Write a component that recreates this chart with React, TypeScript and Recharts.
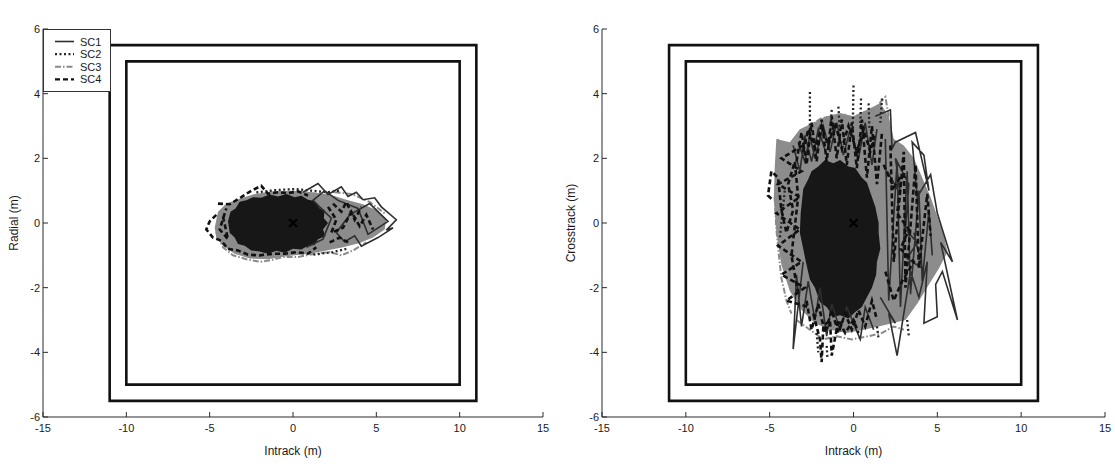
import React from 'react';
import {
  ComposedChart,
  XAxis,
  YAxis,
  Line,
  Area,
  Scatter,
  ReferenceArea,
  Legend,
  Label,
} from 'recharts';

type Pt = [number, number | null];

// ---------- axes ----------
const X_DOMAIN: [number, number] = [-15, 15];
const Y_DOMAIN: [number, number] = [-6, 6];
const X_TICKS = [-15, -10, -5, 0, 5, 10, 15];
const Y_TICKS = [-6, -4, -2, 0, 2, 4, 6];

// ---------- error boxes ----------
const OUTER_BOX_X: [number, number] = [-11, 11];
const OUTER_BOX_Y: [number, number] = [-5.5, 5.5];
const INNER_BOX_X: [number, number] = [-10, 10];
const INNER_BOX_Y: [number, number] = [-5, 5];
const ORIGIN: Pt[] = [[0, 0]];

const LEGEND_NAMES = ['SC1', 'SC2', 'SC3', 'SC4'];

// ---------- Radial vs Intrack ----------
const RAD_GRAY: Pt[] = [
  [-4.7, -0.15], [-4.5, 0.35], [-4.0, 0.6], [-3.2, 0.75], [-2.3, 0.9], [-1.2, 0.98], [0.0, 1.0],
  [1.2, 0.95], [2.2, 0.88], [3.2, 0.72], [4.2, 0.58], [5.0, 0.4], [5.6, 0.12], [5.5, -0.2],
  [4.8, -0.45], [4.0, -0.62], [3.0, -0.75], [2.0, -0.85], [1.0, -0.95], [-0.3, -1.02],
  [-1.5, -1.12], [-2.6, -1.1], [-3.5, -0.95], [-4.2, -0.7], [-4.6, -0.45], [-4.7, -0.15],
];
const RAD_CORE: Pt[] = [
  [-3.9, 0.05], [-3.75, 0.35], [-3.45, 0.45], [-3.2, 0.66], [-2.8, 0.7], [-2.4, 0.8], [-1.9, 0.78],
  [-1.4, 0.88], [-0.9, 0.82], [-0.4, 0.9], [0.1, 0.8], [0.5, 0.84], [0.9, 0.72], [1.3, 0.68],
  [1.6, 0.45], [1.9, 0.4], [1.85, 0.15], [2.1, 0.0], [1.8, -0.2], [1.95, -0.4], [1.5, -0.5],
  [1.3, -0.68], [0.9, -0.7], [0.5, -0.82], [0.0, -0.8], [-0.5, -0.92], [-1.0, -0.86], [-1.5, -0.95],
  [-2.0, -0.88], [-2.5, -0.85], [-2.9, -0.7], [-3.3, -0.65], [-3.5, -0.45], [-3.8, -0.3], [-3.9, 0.05],
];
const RAD_SC1: Pt[] = [
  [0.6, 0.95], [1.5, 1.22], [2.1, 0.88], [2.9, 1.12], [3.3, 0.82], [3.8, 0.95], [4.2, 0.72],
  [4.9, 0.78], [5.3, 0.5], [6.2, 0.1], [5.6, -0.22], [6.0, -0.15], [5.1, -0.45], [4.1, -0.72],
  [3.7, -0.4], [3.1, -0.58], [2.6, -0.3], [3.4, 0.25], [4.6, 0.6], [5.7, 0.05], [4.5, -0.35],
  [3.9, 0.45], [2.7, 0.7], [1.9, 1.0], [1.2, 0.7], [2.3, 0.15], [1.8, -0.5], [0.8, -0.75],
];
const RAD_SC2: Pt[] = [
  [-2.2, 0.95], [-1.0, 1.02], [0.2, 1.05], [1.1, 1.0], [2.0, 0.95], [2.8, 1.0], [2.8, null],
  [3.2, -0.8], [2.4, -0.9], [1.2, -0.98],
];
const RAD_SC3: Pt[] = [
  [-4.4, 0.3], [-4.6, -0.3], [-4.2, -0.75], [-3.6, -1.0], [-2.8, -1.12], [-2.0, -1.2], [-1.3, -1.15],
  [-0.6, -1.05], [0.3, -1.05], [1.3, -0.95], [2.2, -0.9], [2.9, -1.0], [3.6, -0.85], [4.4, -0.6],
  [4.4, null], [2.5, 0.95], [3.5, 0.9], [4.6, 0.65], [5.5, 0.3],
];
const RAD_SC4: Pt[] = [
  [-4.5, 0.6], [-3.8, 0.58], [-3.1, 0.8], [-2.5, 1.0], [-1.9, 1.15], [-1.5, 0.9], [-0.9, 0.95],
  [-0.3, 0.92], [0.3, 0.98], [0.9, 0.85], [0.9, null],
  [-4.6, 0.25], [-5.0, 0.05], [-5.2, -0.2], [-4.8, -0.45], [-4.3, -0.55], [-3.9, -0.8], [-3.3, -0.85],
  [-2.7, -0.98], [-2.0, -1.0], [-1.2, -0.95], [-0.5, -0.95], [0.2, -0.9], [0.9, -0.95], [1.4, -0.75],
  [1.4, null],
  [2.1, 0.5], [2.6, 0.1], [2.3, -0.3], [3.0, -0.15], [3.5, 0.35], [4.0, -0.1], [4.4, 0.25], [4.8, -0.2],
  [4.8, null], [2.2, -0.6], [2.8, -0.45], [3.3, -0.6], [3.3, null],
  [-4.2, 0.2], [-3.9, -0.5], [-4.4, -0.2], [-4.0, 0.45], [-4.0, null],
  [2.4, 0.6], [2.9, 0.35], [3.2, 0.65], [3.7, 0.1], [4.1, 0.5], [4.1, null],
];

// ---------- Crosstrack vs Intrack ----------
const CT_GRAY: Pt[] = [
  [-4.6, 2.6], [-3.8, 2.5], [-3.2, 2.9], [-2.4, 3.1], [-1.6, 3.3], [-0.8, 3.4], [0.0, 3.3], [0.8, 3.5],
  [1.6, 3.7], [2.1, 3.3], [2.4, 2.6], [3.0, 2.4], [3.6, 2.0], [4.1, 1.4], [4.6, 0.8], [5.0, 0.2],
  [5.4, -0.4], [5.6, -0.9], [5.1, -1.4], [4.5, -1.9], [3.8, -2.5], [3.1, -3.0], [2.3, -3.1],
  [1.5, -3.2], [0.6, -3.3], [-0.4, -3.4], [-1.4, -3.3], [-2.3, -3.1], [-3.1, -2.7], [-3.8, -2.1],
  [-4.3, -1.3], [-4.6, -0.3], [-4.75, 0.7], [-4.7, 1.7], [-4.6, 2.6],
];
const CT_CORE: Pt[] = [
  [-3.15, 0.3], [-3.05, 0.8], [-3.0, 1.05], [-2.7, 1.35], [-2.5, 1.6], [-2.1, 1.75], [-1.7, 1.95],
  [-1.2, 1.85], [-0.8, 1.95], [-0.3, 1.75], [0.1, 1.7], [0.5, 1.4], [0.8, 1.25], [1.1, 0.8],
  [1.3, 0.5], [1.5, 0.0], [1.5, -0.3], [1.6, -0.8], [1.4, -1.2], [1.35, -1.6], [1.1, -2.0],
  [0.8, -2.3], [0.5, -2.6], [0.1, -2.75], [-0.3, -2.95], [-0.8, -2.85], [-1.2, -2.9], [-1.6, -2.6],
  [-2.0, -2.45], [-2.3, -2.0], [-2.6, -1.75], [-2.8, -1.3], [-3.0, -0.8], [-3.2, -0.3], [-3.15, 0.3],
];
const CT_SC1: Pt[] = [
  [1.3, 3.3], [2.2, 3.5], [2.3, 2.3], [2.5, 2.5], [3.7, 2.8], [4.5, 1.0], [4.2, 2.1], [3.5, 2.5],
  [3.8, 0.8], [4.6, 1.5], [5.0, 0.3], [5.3, -0.2], [5.9, -1.2], [5.2, -0.6], [6.2, -3.0], [5.3, -1.5],
  [4.9, -1.9], [5.0, -2.9], [4.2, -3.1], [4.4, -1.2], [3.9, -2.3], [3.4, -1.5], [2.6, -4.1],
  [2.1, -2.8], [2.5, -3.1], [1.6, -2.3], [1.6, null],
  [-3.0, -1.2], [-3.6, -3.9], [-3.4, -1.6], [-3.1, -3.2], [-2.7, -1.8], [-2.3, -3.0], [-2.0, -2.0],
  [-1.6, -3.5], [-1.3, -2.5], [-0.8, -3.3], [-0.4, -2.6], [0.4, -3.6], [0.7, -2.6], [1.2, -3.3],
  [1.2, null],
  [-3.6, 2.4], [-3.2, 1.6], [-2.9, 2.7], [-2.5, 1.9], [-2.1, 2.9], [-1.6, 2.1], [-1.6, null],
  [2.0, 1.6], [2.8, 0.9], [2.5, 2.0], [3.3, 1.2], [3.1, -0.2], [3.8, -0.6], [3.2, -1.1], [4.1, -1.4],
  [3.6, -0.3], [3.6, null],
  [-3.3, 2.5], [-2.9, 1.9], [-2.6, 2.7], [-2.3, 2.0], [-1.8, 3.0], [-1.4, 2.2], [-1.0, 3.1], [-0.6, 2.1],
  [-0.2, 2.9], [0.3, 2.0], [0.7, 3.1], [1.1, 1.8], [1.4, 2.9], [1.4, null],
  [1.9, 2.6], [2.1, -2.4], [2.6, 1.9], [2.8, -2.6], [3.2, 1.6], [3.4, -2.2], [3.9, 1.0], [4.1, -1.8],
  [4.5, 0.4], [4.7, -1.0],
];
const CT_SC2: Pt[] = [
  [-2.6, 4.05], [-2.6, 2.6], [-2.6, null], [-1.3, 3.5], [-1.4, 2.6], [-1.4, null],
  [-0.9, 3.6], [-0.8, 2.7], [-0.8, null], [0.0, 4.25], [-0.05, 2.7], [-0.05, null],
  [0.45, 3.85], [0.4, 2.9], [0.4, null], [0.9, 3.7], [0.95, 2.9], [0.95, null],
  [1.7, 3.85], [1.6, 3.1], [1.6, null], [-2.2, -3.4], [-2.1, -4.0], [-2.1, null],
  [-1.6, -3.8], [-1.55, -4.2], [-1.55, null], [1.4, -3.2], [1.5, -3.6], [1.5, null],
  [3.2, -3.0], [3.3, -3.5], [3.3, null], [-4.1, 1.0], [-4.4, -0.5],
];
const CT_SC3: Pt[] = [
  [-4.5, 2.6], [-4.55, 1.8], [-4.7, 0.8], [-4.6, -0.2], [-4.45, -1.0], [-4.3, -1.7], [-4.0, -2.4],
  [-3.7, -2.8], [-3.7, null],
  [-3.4, -3.0], [-2.6, -3.3], [-1.8, -3.6], [-1.0, -3.5], [-0.1, -3.6], [0.9, -3.5], [1.7, -3.4],
  [2.4, -3.2], [3.0, -3.3], [3.0, null],
  [-3.4, 2.3], [-2.6, 3.0], [-1.9, 3.25], [-1.0, 3.3], [-0.3, 3.2], [0.5, 3.4], [1.2, 3.5],
  [1.9, 3.9], [2.1, 3.3], [2.1, null],
  [-2.3, 3.1], [-2.0, 2.1], [-1.6, 3.3], [-1.1, 2.3], [-0.5, 3.3], [0.1, 2.4], [0.7, 3.3], [1.2, 2.4],
  [1.2, null],
  [-4.1, 2.2], [-3.6, 1.2], [-4.2, 0.6], [-3.5, -0.4], [-4.1, -1.2], [-3.4, -1.9],
];
const CT_SC4: Pt[] = [
  [-4.9, 0.75], [-5.1, 0.85], [-4.9, 1.6], [-4.5, 1.4], [-4.3, 0.4], [-4.0, -0.3], [-3.6, 0.4],
  [-3.9, 1.2], [-3.5, 1.9], [-3.3, 0.8], [-3.7, -1.0], [-3.3, -2.2], [-3.3, null],
  [-3.0, 2.2], [-2.7, 2.9], [-2.3, 2.3], [-1.9, 3.0], [-1.5, 2.4], [-1.1, 3.1], [-0.7, 2.3],
  [-0.3, 3.0], [0.2, 2.2], [0.6, 2.9], [1.0, 2.2], [1.3, 2.8], [1.3, null],
  [-2.4, -2.8], [-2.0, -3.6], [-1.9, -4.3], [-1.8, -3.2], [-1.4, -3.0], [-1.3, -4.1], [-0.9, -3.0],
  [-0.5, -3.4], [0.0, -3.0], [0.3, -3.4], [0.3, null],
  [1.8, 1.8], [2.4, 1.1], [2.9, 1.5], [2.6, 0.3], [3.3, -0.2], [2.8, -0.8], [3.6, -1.2], [2.9, -1.8],
  [2.4, -2.4], [1.9, -1.5], [1.9, null],
  [-3.4, 1.9], [-3.1, 2.8], [-2.8, 1.8], [-2.5, 3.1], [-2.2, 1.9], [-1.9, 3.2], [-1.6, 1.9],
  [-1.3, 3.3], [-1.0, 2.0], [-0.7, 3.2], [-0.4, 1.8], [-0.1, 3.1], [0.2, 1.7], [0.5, 3.2], [0.8, 1.4],
  [1.1, 3.0], [1.4, 1.2], [1.7, 2.8], [1.7, null],
  [-3.0, 2.4], [-4.3, 2.0], [-3.1, 1.6], [-4.5, 1.2], [-3.2, 0.8], [-4.6, 0.3], [-3.2, -0.2],
  [-4.5, -0.7], [-3.1, -1.2], [-4.3, -1.6], [-2.9, -2.0], [-4.0, -2.4], [-2.7, -2.6], [-2.7, null],
  [-2.8, -2.4], [-2.5, -3.3], [-2.1, -2.5], [-1.7, -3.4], [-1.3, -2.7], [-0.9, -3.4], [-0.5, -2.8],
  [-0.1, -3.3], [0.3, -2.7], [0.7, -3.2], [1.1, -2.4], [1.4, -3.0], [1.4, null],
  [2.2, 2.4], [2.4, -1.2], [3.0, 2.2], [3.1, -2.0], [3.7, 1.8], [3.9, -1.4], [4.4, 0.9], [4.6, -0.4],
];

// ---------- styling ----------
const FONT = '"Liberation Sans", Arial, Helvetica, sans-serif';
const AXIS_COLOR = '#2a2a2a';
const TEXT_COLOR = '#1a1a1a';
const SERIES_STYLE: Record<string, { stroke: string; width: number; dash?: string }> = {
  SC1: { stroke: '#2e2e2e', width: 1.6 },
  SC2: { stroke: '#262626', width: 2.3, dash: '2 2.5' },
  SC3: { stroke: '#8a8a8a', width: 2.0, dash: '6 2 1.5 2' },
  SC4: { stroke: '#111111', width: 2.6, dash: '5 3' },
};

const toRows = (pts: Pt[]) => pts.map(([x, y]) => ({ x, y }));

const XMark = (props: any) => {
  const { cx, cy } = props;
  const s = 4;
  return (
    <g>
      <line x1={cx - s} y1={cy - s} x2={cx + s} y2={cy + s} stroke="#000" strokeWidth={2} />
      <line x1={cx - s} y1={cy + s} x2={cx + s} y2={cy - s} stroke="#000" strokeWidth={2} />
    </g>
  );
};

const LegendBox = () => (
  <div
    style={{
      width: 66,
      height: 61,
      border: '1px solid #333',
      background: '#fff',
      boxSizing: 'content-box',
    }}
  >
    <svg width={66} height={61} style={{ display: 'block' }}>
      {LEGEND_NAMES.map((n, i) => {
        const st = SERIES_STYLE[n];
        const cy = 11.5 + i * 12.6;
        return (
          <g key={n}>
            <line
              x1={11}
              x2={30}
              y1={cy}
              y2={cy}
              stroke={st.stroke}
              strokeWidth={Math.min(st.width, 2.2)}
              strokeDasharray={st.dash}
            />
            <text
              x={36}
              y={cy}
              dominantBaseline="central"
              fontFamily={FONT}
              fontSize={11}
              fill={TEXT_COLOR}
            >
              {n}
            </text>
          </g>
        );
      })}
    </svg>
  </div>
);

type PanelProps = {
  left: number;
  yLabel: string;
  yAxisWidth: number;
  rightMargin: number;
  yLabelX: number;
  gray: Pt[];
  core: Pt[];
  sc1: Pt[];
  sc2: Pt[];
  sc3: Pt[];
  sc4: Pt[];
  showLegend: boolean;
};

const tickStyle = { fill: TEXT_COLOR, fontSize: 11, fontFamily: FONT };

const seriesLine = (name: string, pts: Pt[]) => {
  const st = SERIES_STYLE[name];
  return (
    <Line
      key={name}
      name={name}
      data={toRows(pts)}
      dataKey="y"
      type="linear"
      stroke={st.stroke}
      strokeWidth={st.width}
      strokeDasharray={st.dash}
      strokeLinejoin="miter"
      dot={false}
      activeDot={false}
      connectNulls={false}
      isAnimationActive={false}
    />
  );
};

const Panel = (p: PanelProps) => (
  <div style={{ position: 'absolute', left: p.left, top: 0 }}>
    <ComposedChart
      width={560}
      height={466}
      margin={{ top: 29, right: p.rightMargin, bottom: 19, left: 0 }}
      style={{ fontFamily: FONT }}
    >
      <XAxis
        dataKey="x"
        type="number"
        domain={X_DOMAIN}
        ticks={X_TICKS}
        interval={0}
        allowDataOverflow
        orientation="bottom"
        height={30}
        tickSize={-5}
        tickMargin={12}
        stroke={AXIS_COLOR}
        tick={tickStyle}
      >
        <Label
          content={(props: any) => {
            const vb = props.viewBox;
            return (
              <text
                x={vb.x + vb.width / 2}
                y={vb.y + 38}
                textAnchor="middle"
                fontFamily={FONT}
                fontSize={12}
                fill={TEXT_COLOR}
              >
                Intrack (m)
              </text>
            );
          }}
        />
      </XAxis>
      <XAxis
        xAxisId="top"
        dataKey="x"
        type="number"
        domain={X_DOMAIN}
        ticks={X_TICKS}
        interval={0}
        allowDataOverflow
        orientation="top"
        height={0}
        tickSize={-5}
        tick={false}
        stroke={AXIS_COLOR}
      >
        <Label
          content={(props: any) => {
            const vb = props.viewBox;
            return (
              <text
                x={vb.x + vb.width / 2}
                y={vb.y - 12}
                textAnchor="middle"
                fontFamily={FONT}
                fontSize={12}
                fill={TEXT_COLOR}
              >
                Error Box Motion
              </text>
            );
          }}
        />
      </XAxis>
      <YAxis
        type="number"
        domain={Y_DOMAIN}
        ticks={Y_TICKS}
        interval={0}
        allowDataOverflow
        orientation="left"
        width={p.yAxisWidth}
        tickSize={-5}
        tickMargin={8}
        stroke={AXIS_COLOR}
        tick={tickStyle}
      >
        <Label
          content={(props: any) => {
            const vb = props.viewBox;
            const cy = vb.y + vb.height / 2;
            return (
              <text
                x={p.yLabelX}
                y={cy}
                transform={`rotate(-90 ${p.yLabelX} ${cy})`}
                textAnchor="middle"
                dominantBaseline="central"
                fontFamily={FONT}
                fontSize={12}
                fill={TEXT_COLOR}
              >
                {p.yLabel}
              </text>
            );
          }}
        />
      </YAxis>
      <YAxis
        yAxisId="right"
        type="number"
        domain={Y_DOMAIN}
        ticks={Y_TICKS}
        interval={0}
        allowDataOverflow
        orientation="right"
        width={0}
        tickSize={-5}
        tick={false}
        stroke={AXIS_COLOR}
      />

      <ReferenceArea
        x1={OUTER_BOX_X[0]}
        x2={OUTER_BOX_X[1]}
        y1={OUTER_BOX_Y[0]}
        y2={OUTER_BOX_Y[1]}
        fill="none"
        stroke="#111"
        strokeWidth={2.6}
        ifOverflow="visible"
      />
      <ReferenceArea
        x1={INNER_BOX_X[0]}
        x2={INNER_BOX_X[1]}
        y1={INNER_BOX_Y[0]}
        y2={INNER_BOX_Y[1]}
        fill="none"
        stroke="#111"
        strokeWidth={2.6}
        ifOverflow="visible"
      />

      <Area
        data={toRows(p.gray)}
        dataKey="y"
        type="linear"
        fill="#8c8c8c"
        fillOpacity={1}
        stroke="none"
        dot={false}
        activeDot={false}
        legendType="none"
        isAnimationActive={false}
      />
      {seriesLine('SC3', p.sc3)}
      <Area
        data={toRows(p.core)}
        dataKey="y"
        type="linear"
        fill="#171717"
        fillOpacity={1}
        stroke="none"
        dot={false}
        activeDot={false}
        legendType="none"
        isAnimationActive={false}
      />
      {seriesLine('SC2', p.sc2)}
      {seriesLine('SC1', p.sc1)}
      {seriesLine('SC4', p.sc4)}
      <Scatter
        data={toRows(ORIGIN)}
        dataKey="y"
        shape={XMark}
        legendType="none"
        isAnimationActive={false}
      />
      {p.showLegend && (
        <Legend
          layout="vertical"
          align="center"
          verticalAlign="middle"
          wrapperStyle={{ left: 43, top: 29, width: 68, height: 63 }}
          content={() => <LegendBox />}
        />
      )}
    </ComposedChart>
  </div>
);

export default function App() {
  return (
    <div
      style={{
        position: 'absolute',
        left: 0,
        top: 0,
        width: 1115,
        height: 466,
        background: '#fff',
        fontFamily: FONT,
      }}
    >
      <Panel
        left={0}
        yLabel="Radial (m)"
        yAxisWidth={43}
        rightMargin={17}
        yLabelX={14}
        gray={RAD_GRAY}
        core={RAD_CORE}
        sc1={RAD_SC1}
        sc2={RAD_SC2}
        sc3={RAD_SC3}
        sc4={RAD_SC4}
        showLegend
      />
      <Panel
        left={555}
        yLabel="Crosstrack (m)"
        yAxisWidth={47}
        rightMargin={10}
        yLabelX={16}
        gray={CT_GRAY}
        core={CT_CORE}
        sc1={CT_SC1}
        sc2={CT_SC2}
        sc3={CT_SC3}
        sc4={CT_SC4}
        showLegend={false}
      />
    </div>
  );
}
